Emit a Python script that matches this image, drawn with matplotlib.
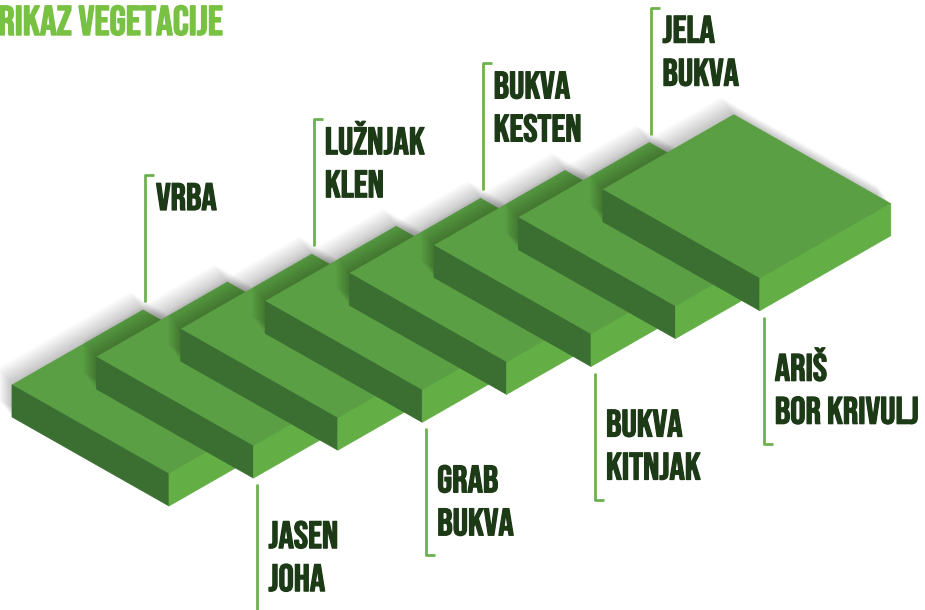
import matplotlib
matplotlib.use("Agg")
import matplotlib.pyplot as plt
from matplotlib.patches import Polygon
from matplotlib import font_manager
import matplotlib.patheffects as pe

# ---------------- data ----------------
title = "PRIKAZ VEGETACIJE"
level_labels = [
    ["VRBA"],
    ["JASEN", "JOHA"],
    ["LUŽNJAK", "KLEN"],
    ["GRAB", "BUKVA"],
    ["BUKVA", "KESTEN"],
    ["BUKVA", "KITNJAK"],
    ["JELA", "BUKVA"],
    ["ARIŠ", "BOR KRIVULJ"],
]
label_side = ["top", "bottom", "top", "bottom", "top", "bottom", "top", "bottom"]

# ---------------- style ----------------
W, H = 925, 610
C_TOP = "#5a9f44"
C_LEFT = "#3b6f32"
C_RIGHT = "#63ae45"
C_LINE = "#6cb14f"
C_TEXT = "#1d3a17"
C_TITLE = "#79c143"

names = {f.name for f in font_manager.fontManager.ttflist}
cands = ["Bebas Neue", "Roboto Condensed", "Liberation Sans Narrow", "DejaVu Sans"]
FONT = next(c for c in cands if c in names)
FONTS = [FONT, "DejaVu Sans"]

fig = plt.figure(figsize=(W / 100, H / 100), dpi=100)
ax = fig.add_axes([0, 0, 1, 1])
ax.set_xlim(0, W)
ax.set_ylim(H, 0)
ax.axis("off")

# geometry (pixel units)
L0 = (12.0, 385.0)
STEP = (84.4, -27.9)
BACK = (131.0, -75.0)
FRONT = (157.0, 89.0)
THICK = 32.0

def slab_pts(k):
    lx, ly = L0[0] + k * STEP[0], L0[1] + k * STEP[1]
    L = (lx, ly)
    B = (lx + BACK[0], ly + BACK[1])
    F = (lx + FRONT[0], ly + FRONT[1])
    R = (lx + BACK[0] + FRONT[0], ly + BACK[1] + FRONT[1])
    return L, B, F, R

def down(p, d=THICK):
    return (p[0], p[1] + d)

bold_lbl = [pe.withStroke(linewidth=0.9, foreground=C_TEXT)]
bold_ttl = [pe.withStroke(linewidth=1.0, foreground=C_TITLE)]

n = len(level_labels)
for k in range(n):
    L, B, F, R = slab_pts(k)
    sil = [L, B, R, down(R), down(F), down(L)]
    # soft shadow toward upper-left
    for i in range(1, 21):
        d = i * 1.1
        off = [(x - 0.6 * d, y - 0.8 * d) for x, y in sil]
        ax.add_patch(Polygon(off, closed=True, facecolor="black", alpha=0.012,
                             edgecolor="none", zorder=2 * k))
    ax.add_patch(Polygon([L, B, R, F], closed=True, facecolor=C_TOP,
                         edgecolor=C_TOP, lw=0.5, zorder=2 * k + 1))
    ax.add_patch(Polygon([L, F, down(F), down(L)], closed=True, facecolor=C_LEFT,
                         edgecolor=C_LEFT, lw=0.5, zorder=2 * k + 1))
    ax.add_patch(Polygon([F, R, down(R), down(F)], closed=True, facecolor=C_RIGHT,
                         edgecolor=C_RIGHT, lw=0.5, zorder=2 * k + 1))

    # leader line + labels
    lines = level_labels[k]
    if label_side[k] == "top":
        x = B[0] + 2
        y1 = B[1] - 8
        y0 = y1 - 127
        ax.plot([x, x, x + 9], [y1, y0, y0], color=C_LINE, lw=2,
                solid_capstyle="butt", zorder=50)
        base = y0 + 35
    else:
        x = F[0] + 4
        y0 = F[1] + THICK + 6
        y1 = y0 + 127
        ax.plot([x, x, x + 9], [y0, y1, y1], color=C_LINE, lw=2,
                solid_capstyle="butt", zorder=50)
        base = y0 + 64
    for j, s in enumerate(lines):
        ax.text(x + 11, base + j * 43, s, fontsize=27.5, family=FONTS,
                color=C_TEXT, va="baseline", ha="left", zorder=60,
                path_effects=bold_lbl)

# title: first letter falls off the left edge as in the reference
renderer = fig.canvas.get_renderer()
TSIZE = 30
probe_full = ax.text(0, 0, title, fontsize=TSIZE, family=FONTS)
probe_rest = ax.text(0, 0, title[1:], fontsize=TSIZE, family=FONTS)
shift = (probe_full.get_window_extent(renderer).width
         - probe_rest.get_window_extent(renderer).width)
probe_full.remove()
probe_rest.remove()
ax.text(-shift - 2, 35, title, fontsize=TSIZE, family=FONTS,
        color=C_TITLE, va="baseline", ha="left", zorder=60,
        path_effects=bold_ttl)

fig.savefig("out.png", dpi=100)
